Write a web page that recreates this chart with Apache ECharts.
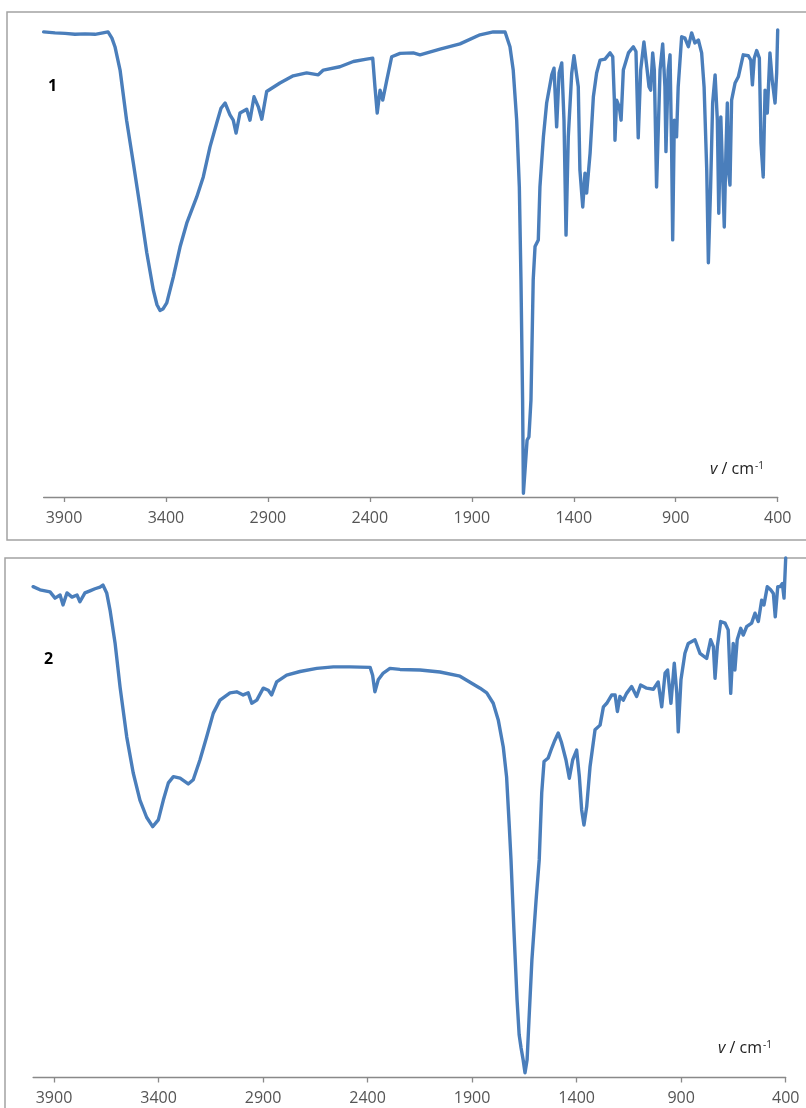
<!DOCTYPE html>
<html>
<head>
<meta charset="utf-8">
<title>IR spectra 1 and 2</title>
<script src="https://cdn.jsdelivr.net/npm/echarts@6/dist/echarts.min.js"></script>
<style>
  html, body { margin: 0; padding: 0; background: #ffffff; }
  #chart { width: 806px; height: 1108px; }
</style>
</head>
<body>
<div id="chart"></div>
<script>
// Wavenumber tick labels (cm-1)
const tickValues = [3900, 3400, 2900, 2400, 1900, 1400, 900, 400];

// Spectrum 1: wavenumber (cm-1) and transmittance (%)
const wn1 = [
  4000, 3944, 3895, 3846, 3797, 3748, 3709, 3684, 3665, 3650,
  3625, 3593, 3560, 3527, 3494, 3462, 3444, 3429, 3415, 3396,
  3364, 3331, 3298, 3249, 3217, 3184, 3151, 3130, 3110, 3086,
  3070, 3056, 3037, 3004, 2988, 2968, 2947, 2930, 2906, 2841,
  2776, 2710, 2653, 2628, 2547, 2481, 2416, 2386, 2375, 2364,
  2350, 2337, 2317, 2293, 2252, 2187, 2154, 2056, 1958, 1860,
  1795, 1737, 1713, 1697, 1680, 1667, 1659, 1651, 1647, 1639,
  1629, 1620, 1610, 1599, 1590, 1574, 1566, 1549, 1533, 1508,
  1497, 1484, 1472, 1459, 1448, 1438, 1427, 1410, 1399, 1378,
  1370, 1356, 1345, 1337, 1320, 1304, 1288, 1271, 1247, 1222,
  1209, 1201, 1198, 1190, 1177, 1168, 1157, 1132, 1108, 1095,
  1084, 1072, 1056, 1042, 1031, 1023, 1013, 1005, 994, 977,
  964, 953, 948, 937, 928, 920, 915, 907, 896, 888,
  871, 855, 838, 822, 806, 789, 773, 761, 748, 740,
  729, 719, 707, 696, 689, 679, 670, 662, 654, 647,
  642, 634, 626, 609, 593, 569, 544, 532, 524, 515,
  503, 490, 482, 471, 462, 451, 438, 427, 413, 405, 400
];
const t1 = [
  97.5, 97.3, 97.2, 97.0, 97.1, 97.0, 97.3, 97.5, 96.2, 94.4,
  89.5, 79.0, 70.0, 60.8, 51.2, 43.4, 40.3, 39.1, 39.4, 40.7,
  46.1, 52.4, 57.4, 62.9, 67.1, 73.4, 78.4, 81.5, 82.6, 80.1,
  79.0, 76.3, 80.5, 81.3, 79.0, 83.9, 81.8, 79.2, 85.0, 86.8,
  88.3, 88.9, 88.5, 89.5, 90.2, 91.3, 91.8, 92.0, 86.0, 80.5,
  85.3, 83.2, 87.4, 92.3, 93.0, 93.1, 92.7, 93.9, 95.0, 96.9,
  97.5, 97.5, 94.4, 89.5, 79.0, 65.0, 45.5, 20.3, 0.8, 5.7,
  11.9, 12.6, 20.3, 45.5, 52.5, 53.9, 65.0, 75.5, 82.6, 88.5,
  89.9, 77.6, 88.9, 91.0, 79.0, 54.9, 75.5, 88.9, 92.5, 86.0,
  68.6, 60.8, 67.9, 63.7, 72.1, 83.9, 88.9, 91.6, 91.8, 93.1,
  92.3, 83.2, 74.8, 83.2, 81.8, 79.0, 89.5, 93.1, 94.4, 93.4,
  75.3, 89.5, 95.4, 90.2, 86.0, 85.3, 93.1, 89.5, 65.0, 89.5,
  95.0, 86.0, 72.4, 89.5, 92.7, 72.1, 53.9, 79.0, 75.5, 86.0,
  96.5, 96.2, 94.4, 97.3, 95.2, 95.8, 93.1, 86.0, 68.6, 49.1,
  65.0, 82.6, 88.5, 79.0, 59.5, 79.7, 79.7, 56.6, 72.1, 82.6,
  68.6, 65.4, 83.2, 86.8, 88.1, 92.7, 92.5, 91.6, 86.4, 92.0,
  93.6, 92.0, 74.2, 67.1, 85.3, 80.5, 93.1, 87.4, 82.6, 88.9, 97.9
];

// Spectrum 2: wavenumber (cm-1) and transmittance (%)
const wn2 = [
  4000, 3967, 3919, 3895, 3871, 3857, 3838, 3814, 3790, 3776,
  3752, 3728, 3704, 3680, 3666, 3648, 3632, 3608, 3584, 3552,
  3521, 3489, 3457, 3428, 3401, 3377, 3353, 3329, 3297, 3258,
  3234, 3202, 3170, 3138, 3106, 3058, 3026, 2995, 2971, 2954,
  2930, 2899, 2875, 2859, 2835, 2787, 2723, 2643, 2564, 2484,
  2388, 2376, 2365, 2349, 2325, 2293, 2245, 2149, 2054, 1958,
  1862, 1830, 1799, 1775, 1751, 1735, 1722, 1714, 1700, 1685,
  1675, 1666, 1656, 1647, 1637, 1628, 1614, 1594, 1579, 1567,
  1556, 1536, 1519, 1504, 1488, 1472, 1451, 1435, 1419, 1400,
  1387, 1376, 1365, 1352, 1336, 1312, 1288, 1272, 1256, 1232,
  1216, 1205, 1193, 1177, 1161, 1137, 1113, 1094, 1065, 1033,
  1010, 993, 977, 965, 949, 933, 921, 914, 901, 882,
  866, 834, 810, 778, 759, 746, 738, 727, 711, 690,
  675, 663, 651, 643, 632, 615, 603, 587, 563, 547,
  531, 515, 504, 488, 472, 459, 450, 438, 427, 416,
  408, 400
];
const t2 = [
  94.3, 93.7, 93.3, 92.1, 92.7, 90.8, 93.1, 92.3, 92.7, 91.4,
  93.1, 93.5, 93.9, 94.2, 94.6, 93.1, 89.8, 83.5, 75.0, 65.4,
  58.5, 53.3, 50.0, 48.2, 49.5, 53.3, 56.6, 57.8, 57.5, 56.4,
  57.2, 61.0, 65.4, 70.0, 72.5, 73.9, 74.1, 73.5, 73.9, 71.9,
  72.5, 74.8, 74.4, 73.5, 76.0, 77.3, 78.0, 78.6, 78.9, 78.9,
  78.8, 77.3, 74.1, 76.4, 77.7, 78.6, 78.4, 78.3, 77.9, 77.1,
  74.8, 73.9, 71.9, 68.7, 63.5, 57.7, 48.1, 41.8, 28.3, 14.9,
  8.2, 5.7, 3.4, 0.9, 3.4, 11.0, 22.6, 34.1, 41.8, 54.7,
  60.7, 61.4, 63.3, 64.8, 66.2, 64.3, 61.0, 57.5, 61.0, 62.9,
  57.8, 51.4, 48.5, 52.0, 59.7, 66.8, 67.7, 71.2, 71.9, 73.5,
  73.5, 70.3, 73.2, 72.5, 73.8, 75.1, 73.2, 75.4, 74.8, 74.6,
  76.0, 71.2, 77.7, 78.3, 71.9, 79.6, 73.9, 66.4, 76.4, 81.5,
  83.4, 84.1, 81.5, 80.5, 84.1, 82.8, 76.7, 82.8, 87.6, 87.3,
  86.0, 73.8, 83.4, 78.3, 84.1, 86.3, 85.0, 86.6, 87.3, 89.2,
  87.6, 91.7, 90.8, 94.3, 93.7, 93.0, 88.5, 94.3, 94.3, 94.9,
  92.1, 99.8
];

const panelNames = ['1', '2'];
const axisTitle = '{i|v} / cm{sup|-1}';

const pairs = (xs, ys) => xs.map((x, i) => [x, ys[i]]);

const lineColor = '#4a7ebb';
const axisGray = '#898989';
const labelGray = '#555555';
const fontFamily = '"Open Sans", "Liberation Sans", sans-serif';

function xAxisFor(gridIndex) {
  return {
    type: 'value',
    gridIndex: gridIndex,
    inverse: true,
    min: 400,
    max: 4000,
    interval: 500,
    splitLine: { show: false },
    axisLine: { show: true, onZero: false, lineStyle: { color: axisGray, width: 1.3 } },
    axisTick: { show: true, inside: false, length: 5, customValues: tickValues,
                lineStyle: { color: axisGray, width: 1.3 } },
    axisLabel: { customValues: tickValues, margin: 13, color: labelGray,
                 fontSize: 16, fontFamily: fontFamily,
                 formatter: (v) => String(v) }
  };
}

function yAxisFor(gridIndex) {
  return { type: 'value', gridIndex: gridIndex, min: 0, max: 100, show: false,
           splitLine: { show: false } };
}

function seriesFor(index, data) {
  return {
    type: 'line',
    xAxisIndex: index,
    yAxisIndex: index,
    data: data,
    showSymbol: false,
    symbol: 'none',
    clip: false,
    lineStyle: { color: lineColor, width: 3.4, join: 'round', cap: 'round' },
    animation: false
  };
}

const titleRich = {
  i: { fontStyle: 'italic', fontSize: 16, fontFamily: fontFamily, fill: '#222222' },
  sup: { fontSize: 10, fontFamily: fontFamily, fill: '#222222', verticalAlign: 'top',
         lineHeight: 11, padding: [0, 0, 0, 1] }
};

function panelNumber(text, x, y) {
  return {
    type: 'text', left: x, top: y, z: 10,
    style: { text: text, fill: '#000000', fontSize: 16, fontWeight: 'bold', fontFamily: fontFamily }
  };
}

const chart = echarts.init(document.getElementById('chart'), null, { renderer: 'canvas' });

chart.setOption({
  backgroundColor: '#ffffff',
  animation: false,
  grid: [
    { left: 43.6, right: 28.3, top: 20, bottom: 611 },
    { left: 33.1, right: 20.3, top: 557, bottom: 30.5 }
  ],
  xAxis: [xAxisFor(0), xAxisFor(1)],
  yAxis: [yAxisFor(0), yAxisFor(1)],
  series: [seriesFor(0, pairs(wn1, t1)), seriesFor(1, pairs(wn2, t2))],
  graphic: [
    // panel frames
    { type: 'rect', shape: { x: 7, y: 12, width: 820, height: 528 },
      style: { fill: 'none', stroke: '#a3a3a3', lineWidth: 1.5 }, z: -1, silent: true },
    { type: 'rect', shape: { x: 5, y: 558, width: 820, height: 600 },
      style: { fill: 'none', stroke: '#a3a3a3', lineWidth: 1.5 }, z: -1, silent: true },
    // panel numbers
    panelNumber(panelNames[0], 48, 78),
    panelNumber(panelNames[1], 44, 651),
    // axis titles
    { type: 'text', left: 710, top: 461, z: 10,
      style: { text: axisTitle, fill: '#222222', fontSize: 16, fontFamily: fontFamily, rich: titleRich } },
    { type: 'text', left: 718, top: 1040, z: 10,
      style: { text: axisTitle, fill: '#222222', fontSize: 16, fontFamily: fontFamily, rich: titleRich } }
  ]
});
</script>
</body>
</html>
